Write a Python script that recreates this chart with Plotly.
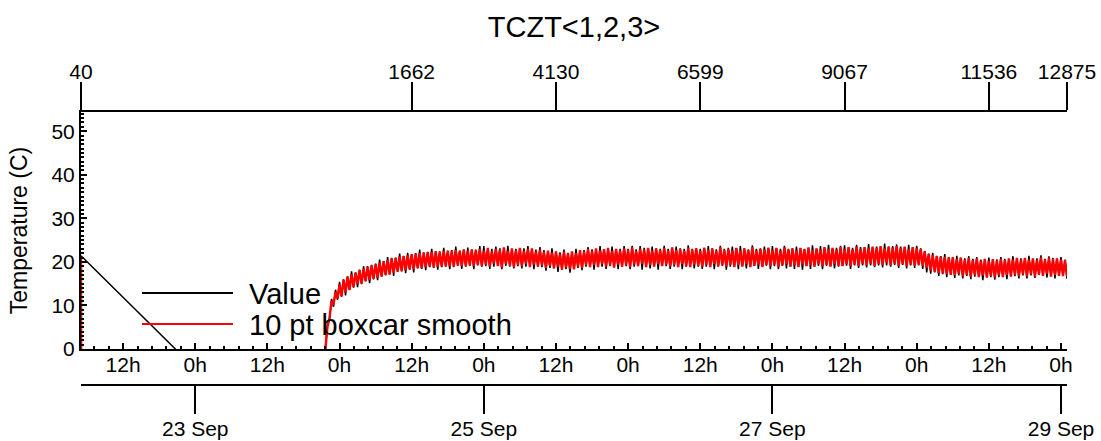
import plotly.graph_objects as go
import pandas as pd

# ---------------- data ----------------
title_text = "TCZT&lt;1,2,3&gt;"
y_title = "Temperature (C)"
legend_names = ["Value", "10 pt boxcar smooth"]

x_range = ["2008-09-22 05:00", "2008-09-29 01:00"]

# lead-in samples (before the logger settled)
value_lead_t = ["2008-09-22 05:00", "2008-09-23 21:38"]
value_lead_v = [21.4, -34.0]
smooth_lead_t = ["2008-09-22 05:00", "2008-09-22 05:03", "2008-09-23 21:38"]
smooth_lead_v = [21.0, -30.0, -30.0]

# main record: 20-minute samples from 23 Sep 21:40 to 29 Sep 01:00
main_start = "2008-09-23 21:40"
main_step = "20min"

value_main = [
    0.5, 5.6, 6.6, 11.5, 9.7, 13.6, 11.3,
    15.4, 12.0, 16.0, 12.3, 16.7, 13.5, 17.8, 14.1, 17.6, 14.2, 18.2, 14.9, 19.0, 15.5, 19.0, 15.1, 19.3, 16.0,
    19.6, 15.8, 20.5, 16.6, 20.2, 16.9, 21.1, 17.2, 20.9, 16.8, 21.0, 17.7, 21.9, 17.8, 21.4, 17.4, 22.1, 18.2,
    21.8, 17.6, 22.0, 18.5, 22.8, 18.4, 22.2, 18.1, 22.3, 18.8, 23.0, 18.6, 22.5, 18.2, 22.4, 18.8, 23.2, 18.9,
    22.6, 18.3, 22.7, 18.8, 23.5, 19.1, 22.6, 18.4, 22.9, 18.9, 23.3, 19.1, 22.9, 18.3, 22.8, 19.2, 23.6, 18.9,
    23.6, 19.0, 22.9, 18.4, 23.0, 18.9, 23.5, 19.2, 23.1, 18.3, 22.9, 19.1, 23.7, 18.9, 22.9, 18.5, 23.0, 19.0,
    22.9, 18.5, 23.1, 18.9, 23.6, 19.2, 23.0, 18.3, 22.8, 18.9, 23.4, 18.8, 22.7, 18.0, 22.5, 18.6, 23.1, 18.5,
    22.3, 17.7, 22.2, 18.2, 22.8, 18.3, 22.1, 17.5, 22.2, 18.4, 23.0, 18.6, 22.6, 18.1, 22.7, 18.9, 23.4, 18.9,
    22.9, 18.2, 22.8, 19.0, 23.6, 18.9, 22.9, 18.4, 22.8, 19.0, 23.5, 18.9, 22.9, 18.3, 23.0, 18.9, 23.6, 19.0,
    23.0, 18.3, 23.7, 18.9, 22.9, 19.1, 23.6, 18.2, 23.2, 18.9, 23.0, 18.5, 23.5, 19.0, 23.1, 18.2, 23.0, 19.1,
    23.7, 19.0, 23.0, 18.4, 23.2, 18.9, 23.5, 19.0, 23.1, 18.3, 23.0, 18.9, 23.8, 19.0, 23.0, 18.5, 23.1, 18.9,
    23.0, 18.4, 23.2, 18.9, 23.6, 19.1, 23.1, 18.3, 22.9, 18.9, 23.7, 19.1, 23.0, 18.2, 23.2, 18.9, 23.5, 19.0,
    23.1, 18.3, 23.6, 19.1, 23.1, 18.5, 22.9, 18.9, 23.8, 19.1, 23.0, 18.4, 23.1, 18.9, 23.5, 19.1, 23.2, 18.3,
    23.6, 19.0, 23.1, 18.3, 23.0, 19.1, 23.7, 18.5, 23.0, 18.9, 23.1, 18.4, 23.5, 19.0, 23.1, 18.2, 23.0, 19.1,
    23.1, 18.4, 23.8, 18.9, 23.0, 19.1, 23.6, 18.3, 23.1, 19.1, 23.9, 19.0, 23.1, 18.5, 23.2, 18.9, 23.7, 19.1,
    23.8, 19.1, 23.3, 18.4, 23.2, 19.2, 23.9, 18.6, 23.4, 19.2, 23.3, 18.7, 24.1, 19.2, 23.4, 18.8, 23.5, 19.2,
    23.5, 18.7, 24.2, 19.2, 23.5, 18.9, 23.6, 19.3, 24.0, 18.6, 23.5, 19.3, 23.4, 18.5, 23.9, 19.2, 23.4, 18.6,
    23.7, 19.2, 23.1, 18.4, 22.5, 17.6, 21.9, 17.3, 22.1, 17.6, 21.4, 16.8, 21.3, 17.2, 21.8, 16.5, 21.1, 17.0,
    21.0, 16.3, 21.4, 16.9, 20.9, 16.2, 20.8, 16.8, 21.3, 16.0, 20.7, 16.6, 21.1, 16.6, 20.5, 15.8, 20.6, 16.5,
    21.0, 16.5, 20.4, 15.9, 20.6, 16.5, 21.1, 16.7, 20.7, 16.0, 20.6, 16.8, 21.3, 16.7, 20.7, 16.2, 20.8, 16.9,
    20.8, 16.2, 21.4, 16.9, 20.7, 16.3, 20.8, 17.0, 21.5, 16.8, 20.7, 16.4, 21.3, 16.7, 20.9, 16.2, 20.7, 16.9,
    21.1, 16.7, 20.5, 16.1,
]

smooth_main = [
    0.3, 5.2, 7.1, 11.0, 10.2, 13.1, 11.6,
    14.8, 12.1, 15.9, 13.0, 16.6, 13.6, 17.1, 14.2, 17.5, 14.9, 18.1, 15.0, 18.4, 15.6, 18.9, 15.8, 19.2, 16.1,
    19.5, 16.4, 19.8, 16.7, 20.1, 17.0, 20.4, 17.1, 20.8, 17.5, 20.9, 17.8, 21.2, 17.9, 21.3, 18.1, 21.5, 18.3,
    21.7, 18.3, 21.9, 18.6, 22.0, 18.5, 22.1, 18.8, 22.2, 18.9, 22.3, 18.7, 22.4, 19.0, 22.3, 18.9, 22.5, 19.0,
    22.5, 19.0, 22.6, 18.9, 22.7, 19.2, 22.5, 19.1, 22.8, 19.0, 22.6, 19.2, 22.8, 19.1, 22.7, 19.3, 22.9, 19.0,
    22.6, 19.4, 23.2, 18.9, 22.4, 19.6, 23.0, 19.0, 22.8, 18.7, 23.3, 19.5, 22.5, 19.1, 23.1, 18.8, 22.7, 19.3,
    23.2, 19.0, 22.5, 19.6, 22.9, 18.8, 23.1, 19.4, 22.4, 18.9, 22.8, 19.2, 22.3, 18.6, 22.6, 19.1, 22.1, 18.5,
    22.4, 18.9, 21.8, 18.2, 22.3, 18.7, 21.9, 18.4, 22.4, 18.3, 22.0, 18.9, 22.7, 18.6, 22.4, 19.3, 22.9, 18.8,
    22.5, 19.3, 23.1, 18.8, 22.6, 19.5, 22.9, 18.9, 23.2, 19.2, 22.5, 18.7, 23.0, 19.4, 22.6, 18.9, 23.1, 19.3,
    22.7, 18.8, 23.3, 19.4, 22.5, 19.0, 23.0, 19.6, 22.8, 18.8, 23.2, 19.3, 22.6, 18.9, 23.1, 19.5, 22.7, 19.0,
    23.2, 19.4, 22.6, 18.9, 23.3, 19.3, 22.7, 18.8, 23.0, 19.5, 22.5, 19.0, 23.2, 18.8, 22.8, 19.4, 23.1, 19.1,
    22.6, 18.9, 23.2, 19.4, 22.7, 18.8, 23.1, 19.5, 22.5, 19.0, 23.3, 19.2, 22.7, 18.9, 23.0, 19.4, 22.6, 18.8,
    23.2, 19.3, 22.6, 18.9, 23.1, 19.5, 22.7, 18.8, 23.3, 19.1, 22.6, 19.4, 23.0, 18.8, 22.8, 19.3, 23.2, 19.0,
    22.7, 19.4, 23.2, 18.8, 22.6, 19.2, 23.3, 19.5, 22.8, 18.9, 23.1, 19.3, 22.6, 18.8, 23.2, 19.4, 22.8, 19.0,
    23.3, 19.2, 22.7, 18.9, 23.1, 19.5, 22.8, 19.0, 23.4, 19.3, 22.9, 18.9, 23.2, 19.5, 22.8, 19.1, 23.4, 19.0,
    22.9, 19.5, 23.4, 19.0, 22.8, 19.4, 23.5, 19.1, 23.0, 19.6, 23.4, 19.2, 23.1, 19.6, 23.5, 19.1, 23.2, 19.5,
    23.6, 19.3, 23.1, 19.7, 23.5, 19.2, 23.2, 19.6, 23.6, 19.1, 23.2, 19.5, 23.5, 19.0, 23.0, 19.4, 23.4, 19.1,
    23.1, 19.3, 23.0, 19.1, 22.4, 18.6, 21.8, 18.0, 21.5, 17.7, 21.3, 17.5, 21.2, 17.3, 21.1, 17.2, 21.0, 17.1,
    21.1, 16.9, 20.6, 17.3, 21.0, 16.7, 20.5, 17.1, 20.9, 16.6, 20.4, 17.0, 20.8, 16.5, 20.3, 16.9, 20.7, 16.4,
    20.2, 16.8, 20.6, 16.4, 20.3, 16.9, 20.7, 16.5, 20.4, 17.0, 20.8, 16.6, 20.5, 17.1, 20.9, 16.7, 20.5, 17.2,
    20.9, 16.7, 20.5, 17.2, 20.8, 16.6, 20.4, 17.1, 21.0, 16.8, 20.5, 17.3, 20.9, 16.6, 20.6, 17.0, 20.8, 16.8,
    20.5, 16.8, 20.4, 16.7,
]

# bottom (time-of-day) axis
hour_tick_start = "2008-09-22 12:00"
hour_tick_labels = ["12h", "0h", "12h", "0h", "12h", "0h", "12h", "0h",
                    "12h", "0h", "12h", "0h", "12h", "0h"]
# date axis
date_tick_vals = ["2008-09-23", "2008-09-25", "2008-09-27", "2008-09-29"]
date_tick_labels = ["23 Sep", "25 Sep", "27 Sep", "29 Sep"]
# top (sample index) axis
index_tick_vals = ["2008-09-22 05:00", "2008-09-24 12:00", "2008-09-25 12:00",
                   "2008-09-26 12:00", "2008-09-27 12:00", "2008-09-28 12:00",
                   "2008-09-29 01:00"]
index_tick_labels = ["40", "1662", "4130", "6599", "9067", "11536", "12875"]
y_tick_vals = [0, 10, 20, 30, 40, 50]
y_range = [0, 54.4]

# ---------------- build ----------------
main_t = pd.date_range(main_start, periods=len(value_main), freq=main_step)
value_t = list(pd.to_datetime(value_lead_t)) + list(main_t)
value_v = value_lead_v + value_main
smooth_t = list(pd.to_datetime(smooth_lead_t)) + list(main_t)
smooth_v = smooth_lead_v + smooth_main

hour_tick_vals = pd.date_range(hour_tick_start, periods=len(hour_tick_labels), freq="12h")
minor_vals = pd.date_range("2008-09-22 07:12", x_range[1], freq="144min")

W, H = 1101, 441
ML, MR, MT, MB = 81, 34, 112, 56
PW, PH = W - ML - MR, H - MT - MB


def px(x):
    return (x - ML) / PW


def py(y):
    return (H - MB - y) / PH


FONT = "Liberation Sans, Arial, sans-serif"

fig = go.Figure()
fig.add_trace(go.Scatter(x=value_t, y=value_v, mode="lines",
                         line=dict(color="black", width=1.5, simplify=False),
                         name=legend_names[0], hoverinfo="skip"))
fig.add_trace(go.Scatter(x=smooth_t, y=smooth_v, mode="lines",
                         line=dict(color="#ff0000", width=2.4, simplify=False),
                         name=legend_names[1], hoverinfo="skip"))
# carriers for the extra axes
fig.add_trace(go.Scatter(x=x_range, y=[None, None], xaxis="x2", yaxis="y",
                         mode="lines", showlegend=False, hoverinfo="skip"))
fig.add_trace(go.Scatter(x=x_range, y=[None, None], xaxis="x3", yaxis="y",
                         mode="lines", showlegend=False, hoverinfo="skip"))

axis_common = dict(type="date", range=x_range, showgrid=False, zeroline=False,
                   showline=True, linecolor="black", linewidth=2,
                   tickcolor="black", tickwidth=2, automargin=False,
                   tickfont=dict(size=21, color="black"))

fig.update_layout(
    width=W, height=H,
    margin=dict(l=ML, r=MR, t=MT, b=MB, pad=0),
    paper_bgcolor="white", plot_bgcolor="white",
    font=dict(family=FONT, size=21, color="black"),
    showlegend=False,
    title=dict(text=title_text, x=0.5, xanchor="center", xref="paper",
               y=1 - 27 / H, yref="container", yanchor="middle",
               font=dict(size=29, color="black")),
    xaxis=dict(**axis_common, anchor="y", side="bottom",
               ticks="inside", ticklen=6, tickmode="array",
               tickvals=list(hour_tick_vals), ticktext=hour_tick_labels,
               ticklabelstandoff=-4,
               minor=dict(ticks="inside", ticklen=3, tickwidth=1.5,
                          tickcolor="black", tickmode="array",
                          tickvals=list(minor_vals))),
    xaxis2=dict(**axis_common, overlaying="x", anchor="y", side="top",
                ticks="outside", ticklen=28, tickmode="array",
                ticklabelstandoff=-5,
                tickvals=index_tick_vals, ticktext=index_tick_labels),
    xaxis3=dict(**axis_common, overlaying="x", anchor="free", position=0,
                side="bottom", ticks="outside", ticklen=28, tickmode="array",
                ticklabelstandoff=-3,
                tickvals=date_tick_vals, ticktext=date_tick_labels),
    yaxis=dict(domain=[(H - MB - 349) / PH, 1], range=y_range,
               showgrid=False, zeroline=False, showline=True,
               linecolor="black", linewidth=2, ticks="inside", ticklen=6,
               tickwidth=2, tickcolor="black", tickmode="array",
               tickvals=y_tick_vals, automargin=False,
               tickfont=dict(size=21, color="black"),
               minor=dict(ticks="inside", ticklen=3, tickwidth=1.5,
                          tickcolor="black", dtick=1),
               title=dict(text=y_title, font=dict(size=23, color="black"),
                          standoff=17)),
)

# hand-drawn legend (long line samples as in the reference)
legend_y = [293, 324]
legend_colors = ["black", "#ff0000"]
for name, yy, col in zip(legend_names, legend_y, legend_colors):
    fig.add_shape(type="line", xref="paper", yref="paper",
                  x0=px(142), x1=px(233), y0=py(yy), y1=py(yy),
                  line=dict(color=col, width=2))
    fig.add_annotation(text=name, xref="paper", yref="paper",
                       x=px(247), y=py(yy + 1), xanchor="left", yanchor="middle",
                       showarrow=False, font=dict(size=29, color="black"))

fig.write_html("out.html",
               config={"displayModeBar": False},
               post_script="document.body.style.margin='0';"
                           "document.body.style.overflow='hidden';")
